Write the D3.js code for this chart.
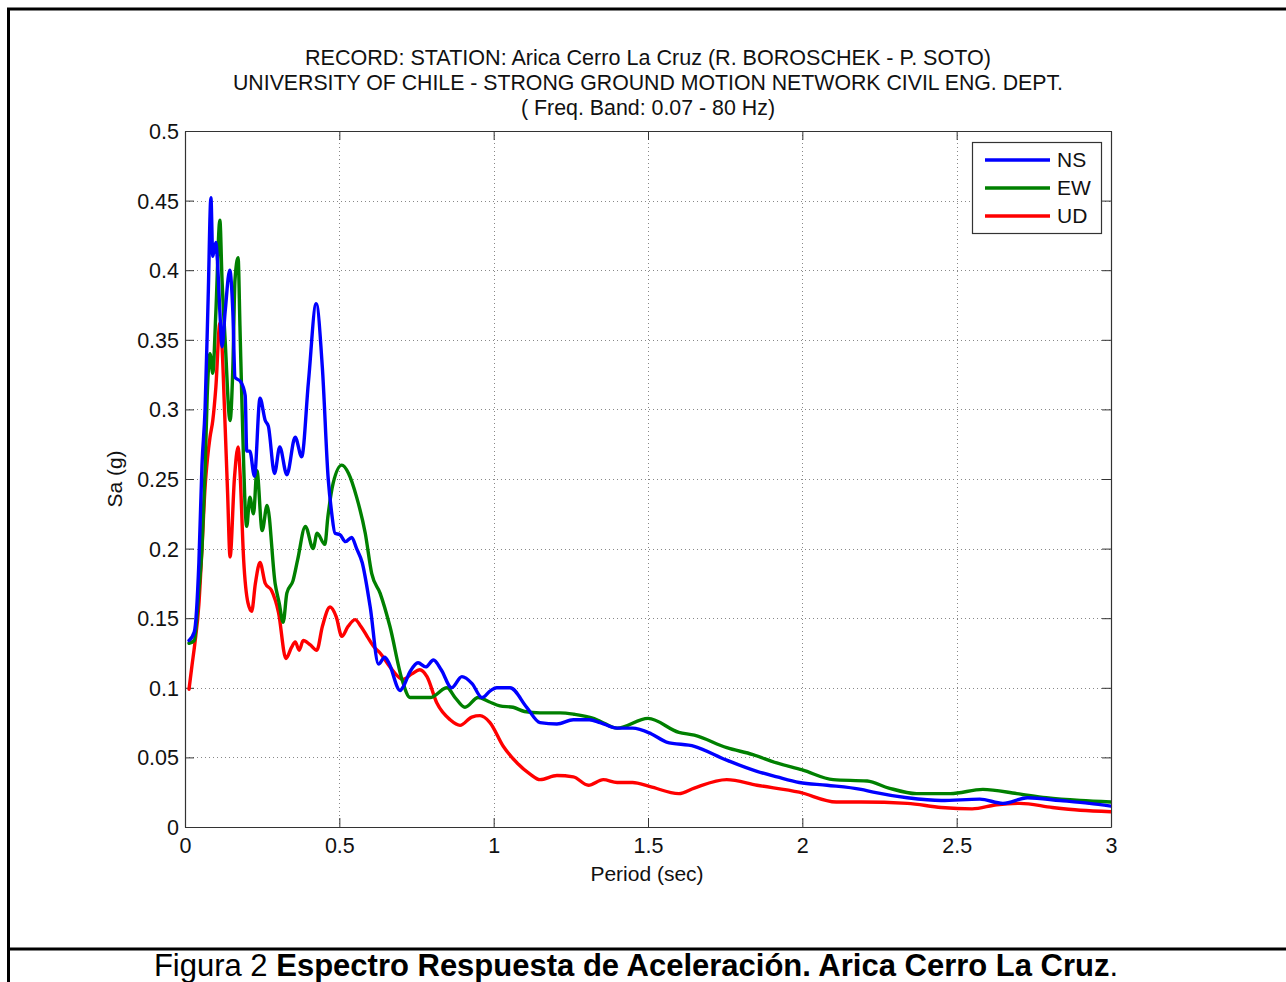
<!DOCTYPE html>
<html><head><meta charset="utf-8">
<script src="https://cdn.jsdelivr.net/npm/d3@7"></script>
<style>
html,body{margin:0;padding:0;background:#fff;}
svg text{font-family:"Liberation Sans",Arial,sans-serif;}
</style></head>
<body>
<svg id="chart" width="1286" height="982"></svg>
<script>
// ---------- data ----------
const titleLines = [
  "RECORD: STATION: Arica Cerro La Cruz (R. BOROSCHEK - P. SOTO)",
  "UNIVERSITY OF CHILE - STRONG GROUND MOTION NETWORK CIVIL ENG. DEPT.",
  "( Freq. Band: 0.07 - 80 Hz)"
];
const xLabel = "Period (sec)";
const yLabel = "Sa (g)";
const xTicks = [0, 0.5, 1, 1.5, 2, 2.5, 3];
const xTickLabels = ["0", "0.5", "1", "1.5", "2", "2.5", "3"];
const yTicks = [0, 0.05, 0.1, 0.15, 0.2, 0.25, 0.3, 0.35, 0.4, 0.45, 0.5];
const yTickLabels = ["0", "0.05", "0.1", "0.15", "0.2", "0.25", "0.3", "0.35", "0.4", "0.45", "0.5"];
const seriesNames = ["NS", "EW", "UD"];

const nsPeriod = [0.013,0.03,0.045,0.055,0.065,0.075,0.084,0.09,0.1,0.105,0.113,0.12,0.13,0.145,0.155,0.162,0.18,0.195,0.2,0.21,0.225,0.243,0.26,0.27,0.29,0.307,0.33,0.357,0.378,0.4,0.425,0.445,0.464,0.475,0.486,0.502,0.52,0.54,0.556,0.574,0.6,0.627,0.647,0.66,0.697,0.705,0.73,0.755,0.78,0.805,0.83,0.864,0.897,0.93,0.962,0.99,1.01,1.053,1.107,1.15,1.205,1.258,1.31,1.345,1.4,1.45,1.51,1.56,1.65,1.755,1.853,1.918,1.99,2.08,2.19,2.23,2.34,2.45,2.575,2.65,2.73,2.835,2.93,3.0];
const nsSa = [0.134,0.14,0.19,0.26,0.3,0.38,0.452,0.41,0.42,0.407,0.37,0.345,0.37,0.40,0.37,0.323,0.32,0.31,0.27,0.27,0.252,0.308,0.292,0.288,0.254,0.273,0.253,0.28,0.266,0.32,0.376,0.33,0.25,0.226,0.211,0.21,0.205,0.208,0.2,0.19,0.158,0.117,0.122,0.118,0.098,0.1,0.112,0.118,0.115,0.12,0.113,0.1,0.108,0.103,0.093,0.098,0.1,0.1,0.086,0.075,0.074,0.077,0.077,0.075,0.071,0.071,0.067,0.061,0.058,0.048,0.04,0.036,0.032,0.03,0.027,0.025,0.021,0.019,0.02,0.017,0.021,0.019,0.017,0.015];

const ewPeriod = [0.013,0.03,0.045,0.055,0.065,0.072,0.081,0.09,0.1,0.113,0.12,0.13,0.146,0.155,0.162,0.172,0.178,0.185,0.2,0.21,0.222,0.233,0.25,0.266,0.292,0.305,0.318,0.33,0.35,0.365,0.39,0.415,0.428,0.453,0.463,0.48,0.508,0.53,0.556,0.584,0.605,0.632,0.664,0.703,0.729,0.794,0.849,0.875,0.907,0.95,0.985,1.02,1.063,1.1,1.15,1.215,1.26,1.323,1.345,1.4,1.5,1.6,1.65,1.755,1.84,1.917,2.0,2.1,2.21,2.28,2.37,2.48,2.585,2.695,2.79,2.9,3.0];
const ewSa = [0.132,0.134,0.17,0.2,0.256,0.31,0.34,0.326,0.37,0.436,0.393,0.35,0.292,0.33,0.393,0.409,0.36,0.3,0.216,0.237,0.225,0.256,0.213,0.231,0.175,0.161,0.147,0.168,0.177,0.192,0.216,0.2,0.211,0.203,0.223,0.247,0.26,0.254,0.237,0.211,0.182,0.168,0.144,0.106,0.093,0.093,0.1,0.093,0.086,0.093,0.09,0.087,0.086,0.083,0.082,0.082,0.081,0.078,0.076,0.071,0.078,0.068,0.066,0.057,0.052,0.046,0.041,0.034,0.033,0.028,0.024,0.024,0.027,0.024,0.021,0.019,0.018];

const udPeriod = [0.013,0.022,0.032,0.045,0.055,0.065,0.073,0.081,0.09,0.1,0.113,0.12,0.128,0.138,0.146,0.16,0.172,0.178,0.19,0.204,0.216,0.228,0.243,0.26,0.28,0.303,0.327,0.345,0.357,0.37,0.383,0.405,0.427,0.445,0.47,0.49,0.508,0.528,0.551,0.57,0.59,0.61,0.632,0.664,0.706,0.735,0.761,0.784,0.816,0.859,0.891,0.929,0.956,0.988,1.031,1.076,1.118,1.15,1.205,1.258,1.307,1.355,1.4,1.45,1.507,1.6,1.65,1.755,1.853,1.99,2.11,2.19,2.34,2.45,2.55,2.63,2.705,2.81,2.9,3.0];
const udSa = [0.099,0.115,0.132,0.16,0.2,0.244,0.265,0.28,0.292,0.316,0.362,0.345,0.3,0.24,0.194,0.25,0.273,0.256,0.192,0.161,0.155,0.175,0.19,0.175,0.17,0.154,0.121,0.129,0.133,0.127,0.134,0.131,0.127,0.144,0.158,0.151,0.137,0.144,0.149,0.144,0.137,0.13,0.125,0.115,0.106,0.11,0.113,0.108,0.089,0.077,0.073,0.079,0.08,0.075,0.058,0.046,0.038,0.034,0.037,0.036,0.03,0.034,0.032,0.032,0.029,0.024,0.028,0.034,0.03,0.025,0.018,0.018,0.017,0.014,0.013,0.016,0.017,0.014,0.012,0.011];

const seriesColors = ["#0000ff", "#008000", "#ff0000"];

// ---------- drawing ----------
const svg = d3.select("#chart");
const font = '"Liberation Sans",Arial,sans-serif';

// outer document frame
svg.append("path").attr("d", "M8.5,982 L8.5,9 L1286,9").attr("fill", "none").attr("stroke", "#000").attr("stroke-width", 3);
svg.append("line").attr("x1", 8).attr("x2", 1286).attr("y1", 949).attr("y2", 949).attr("stroke", "#000").attr("stroke-width", 3);

const L = 185, R = 1111, T = 131, B = 827;
const x = d3.scaleLinear().domain([0, 3]).range([L, R]);
const y = d3.scaleLinear().domain([0, 0.5]).range([B, T]);

// grid
const grid = svg.append("g");
grid.selectAll("line.gx").data(xTicks.slice(1, -1)).join("line")
  .attr("x1", d => Math.round(x(d)) + 0.5).attr("x2", d => Math.round(x(d)) + 0.5)
  .attr("y1", T).attr("y2", B)
  .attr("stroke", "#888").attr("stroke-width", 1).attr("stroke-dasharray", "1,3");
grid.selectAll("line.gy").data(yTicks.slice(1, -1)).join("line")
  .attr("y1", d => Math.round(y(d)) + 0.5).attr("y2", d => Math.round(y(d)) + 0.5)
  .attr("x1", L).attr("x2", R)
  .attr("stroke", "#888").attr("stroke-width", 1).attr("stroke-dasharray", "1,3");

// axes
const tickFmt = (arr, labels) => (d => labels[arr.indexOf(d)]);
const axB = svg.append("g").attr("transform", `translate(0,${B})`)
  .call(d3.axisBottom(x).tickValues(xTicks).tickFormat(tickFmt(xTicks, xTickLabels)).tickSizeInner(-9).tickSizeOuter(0).tickPadding(11));
const axL = svg.append("g").attr("transform", `translate(${L},0)`)
  .call(d3.axisLeft(y).tickValues(yTicks).tickFormat(tickFmt(yTicks, yTickLabels)).tickSizeInner(-9).tickSizeOuter(0).tickPadding(6));
const axT = svg.append("g").attr("transform", `translate(0,${T})`)
  .call(d3.axisTop(x).tickValues(xTicks).tickFormat("").tickSizeInner(-9).tickSizeOuter(0));
const axR = svg.append("g").attr("transform", `translate(${R},0)`)
  .call(d3.axisRight(y).tickValues(yTicks).tickFormat("").tickSizeInner(-9).tickSizeOuter(0));
[axB, axL, axT, axR].forEach(g => {
  g.select(".domain").attr("stroke", "#333").attr("stroke-width", 1.2);
  g.selectAll(".tick line").attr("stroke", "#333");
  g.selectAll(".tick text").attr("font-family", font).attr("font-size", 21.5).attr("fill", "#111");
});
axL.selectAll(".tick text").attr("dy", "0.35em");

// lines
const allSeries = [
  { name: seriesNames[0], t: nsPeriod, v: nsSa, color: seriesColors[0] },
  { name: seriesNames[1], t: ewPeriod, v: ewSa, color: seriesColors[1] },
  { name: seriesNames[2], t: udPeriod, v: udSa, color: seriesColors[2] }
];
const line = d3.line().x(d => x(d[0])).y(d => y(d[1])).curve(d3.curveMonotoneX);
svg.append("clipPath").attr("id", "clip").append("rect").attr("x", L).attr("y", T).attr("width", R - L).attr("height", B - T);
const lineG = svg.append("g").attr("clip-path", "url(#clip)");
[allSeries[2], allSeries[1], allSeries[0]].forEach(s => {
  lineG.append("path").datum(s.t.map((t, i) => [t, s.v[i]]))
    .attr("d", line).attr("fill", "none").attr("stroke", s.color)
    .attr("stroke-width", 3.4).attr("stroke-linejoin", "round").attr("stroke-linecap", "round");
});

// legend
const lg = svg.append("g");
lg.append("rect").attr("x", 972.5).attr("y", 142.5).attr("width", 129).attr("height", 91)
  .attr("fill", "#fff").attr("stroke", "#333").attr("stroke-width", 1.2);
allSeries.forEach((s, i) => {
  const yy = 160 + i * 28;
  lg.append("line").attr("x1", 985).attr("x2", 1050).attr("y1", yy).attr("y2", yy)
    .attr("stroke", s.color).attr("stroke-width", 3.4);
  lg.append("text").attr("x", 1057).attr("y", yy).attr("dy", "0.35em")
    .attr("font-family", font).attr("font-size", 21).attr("fill", "#111").text(s.name);
});

// titles
const titleWidths = [686, 830, 254];
titleLines.forEach((t, i) => {
  svg.append("text").attr("x", 648).attr("y", 65 + i * 25).attr("text-anchor", "middle")
    .attr("font-family", font).attr("font-size", 21.5).attr("fill", "#111")
    .attr("textLength", titleWidths[i]).attr("lengthAdjust", "spacingAndGlyphs").text(t);
});
svg.append("text").attr("x", 647).attr("y", 881).attr("text-anchor", "middle")
  .attr("font-family", font).attr("font-size", 21).attr("fill", "#111").text(xLabel);
svg.append("text").attr("transform", "translate(122,479) rotate(-90)").attr("text-anchor", "middle")
  .attr("font-family", font).attr("font-size", 21).attr("fill", "#111").text(yLabel);

// caption
const cap = svg.append("text").attr("x", 636).attr("y", 976).attr("text-anchor", "middle")
  .attr("font-family", font).attr("font-size", 31).attr("fill", "#000");
cap.append("tspan").text("Figura 2 ");
cap.append("tspan").attr("font-weight", "bold").text("Espectro Respuesta de Aceleración. Arica Cerro La Cruz");
cap.append("tspan").text(".");
</script>
</body></html>
